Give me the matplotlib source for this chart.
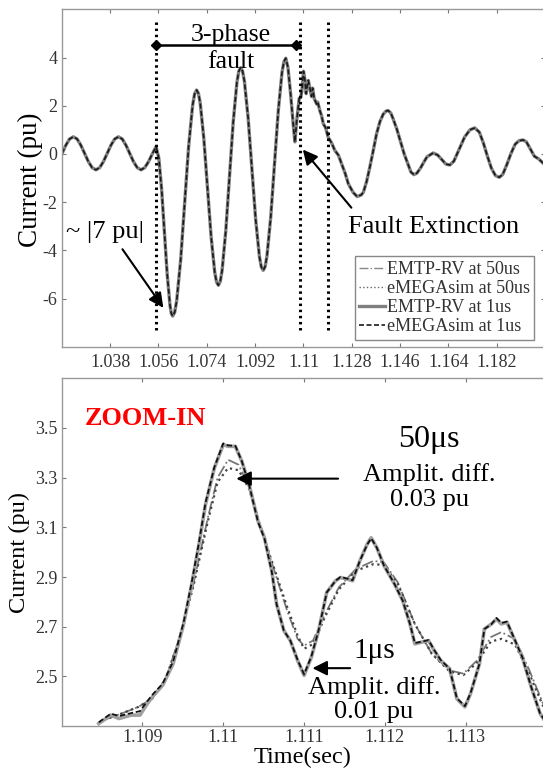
import matplotlib
matplotlib.use("Agg")
import matplotlib.pyplot as plt

plt.rcParams['font.family'] = ['Liberation Serif', 'DejaVu Serif']
plt.rcParams['axes.unicode_minus'] = False

# ---- top panel: full fault waveform (all four runs overlap here)
t_top = [1.0201, 1.0215, 1.0229, 1.0243, 1.0257, 1.0271, 1.0285, 1.0299, 1.0313, 1.0327,
         1.0341, 1.0355, 1.0369, 1.0383, 1.0397, 1.0411, 1.0425, 1.0439, 1.0453, 1.0467,
         1.0481, 1.0495, 1.0509, 1.0523, 1.0537, 1.0551,
         1.05613, 1.05717, 1.0582, 1.05923, 1.06027, 1.06078, 1.0613, 1.06204, 1.06278, 1.06427,
         1.06575, 1.06723, 1.06872, 1.06946, 1.0702, 1.07088, 1.07155, 1.0729, 1.07425, 1.0756,
         1.07695, 1.07762, 1.0783, 1.07899, 1.07968, 1.08107, 1.08245, 1.08383, 1.08522, 1.08591,
         1.0866, 1.0873, 1.088, 1.0894, 1.0908, 1.0922, 1.0936, 1.0943, 1.095, 1.0957,
         1.0964, 1.0978, 1.0992, 1.1006, 1.102, 1.1027, 1.1034, 1.1042, 1.1052, 1.1062,
         1.1068, 1.1075, 1.1084, 1.109, 1.1095, 1.11, 1.1105, 1.111, 1.1115, 1.1118,
         1.1125, 1.113, 1.1134, 1.114, 1.1149, 1.1153, 1.1161, 1.1167, 1.1174, 1.1182,
         1.1192, 1.1205, 1.1217, 1.123, 1.1242, 1.1255, 1.1267, 1.1285, 1.13, 1.1315,
         1.1323, 1.1335, 1.1347, 1.136, 1.1372, 1.1385, 1.1397, 1.1408, 1.1415, 1.1425,
         1.1434, 1.1447, 1.1459, 1.1475, 1.149, 1.15, 1.1511, 1.1522, 1.1535, 1.1545,
         1.156, 1.1583, 1.16, 1.1612, 1.163, 1.1645, 1.166, 1.168, 1.17, 1.172,
         1.1738, 1.1755, 1.177, 1.1785, 1.18, 1.1815, 1.1829, 1.1842, 1.1857, 1.1872,
         1.1888, 1.1903, 1.1918, 1.193, 1.1945, 1.196, 1.1975, 1.1992]
i_top = [0.02, 0.36, 0.62, 0.71, 0.62, 0.36, 0.02, -0.32, -0.57, -0.66,
         -0.57, -0.32, 0.02, 0.36, 0.62, 0.71, 0.62, 0.36, 0.02, -0.32,
         -0.57, -0.66, -0.57, -0.32, 0.0, 0.3,
         -0.17, -1.46, -3.22, -4.97, -6.26, -6.62, -6.73, -6.57, -6.10, -4.39,
         -2.04, 0.31, 2.02, 2.49, 2.65, 2.51, 2.11, 0.63, -1.40, -3.43,
         -4.91, -5.31, -5.45, -5.30, -4.85, -3.19, -0.94, 1.32, 2.98, 3.43,
         3.58, 3.44, 3.02, 1.48, -0.63, -2.73, -4.27, -4.69, -4.83, -4.68,
         -4.24, -2.63, -0.43, 1.77, 3.38, 3.82, 3.97, 3.6, 2.5, 1.2,
         0.5, 1.4, 2.3, 2.35, 2.7, 3.43, 3.1, 2.5, 2.9, 3.05,
         2.65, 2.38, 2.73, 2.3, 2.07, 2.15, 1.79, 1.6, 1.24, 1.1,
         0.69, 0.45, 0.14, -0.05, -0.41, -0.8, -1.24, -1.6, -1.77, -1.7,
         -1.59, -1.15, -0.55, 0.15, 0.83, 1.35, 1.65, 1.78, 1.8, 1.7,
         1.45, 1.05, 0.6, 0.0, -0.45, -0.75, -0.86, -0.8, -0.6, -0.4,
         -0.12, 0.04, -0.05, -0.2, -0.42, -0.46, -0.3, 0.2, 0.7, 1.0,
         1.08, 0.9, 0.45, -0.1, -0.6, -0.9, -0.97, -0.85, -0.45, 0.0,
         0.4, 0.55, 0.58, 0.5, 0.2, -0.1, -0.2, -0.38]

# ---- bottom panel: zoom-in around fault extinction
t_1us = [1.10846, 1.10861, 1.10871, 1.10886, 1.10897, 1.10906, 1.10914, 1.10925, 1.10938, 1.10951,
         1.10961, 1.10970, 1.10978, 1.10989, 1.11000, 1.11006, 1.11015, 1.11023, 1.11032, 1.11043,
         1.11051, 1.11060, 1.11066, 1.11075, 1.11083, 1.11092, 1.11100, 1.11109, 1.11118, 1.11128,
         1.11139, 1.11145, 1.11154, 1.11160, 1.11169, 1.11178, 1.11183, 1.11190, 1.11199, 1.11212,
         1.11222, 1.11231, 1.11237, 1.11246, 1.11254, 1.11261, 1.11269, 1.11280, 1.11289, 1.11299,
         1.11306, 1.11317, 1.11323, 1.11332, 1.11338, 1.11344, 1.11351, 1.11359, 1.11370, 1.11381,
         1.11392, 1.11400]
i_emtp_1us = [2.310, 2.344, 2.330, 2.344, 2.344, 2.390, 2.424, 2.464, 2.551, 2.711,
              2.871, 3.032, 3.192, 3.339, 3.433, 3.426, 3.426, 3.366, 3.272, 3.125,
              3.058, 2.925, 2.791, 2.684, 2.644, 2.564, 2.504, 2.577, 2.684, 2.838,
              2.885, 2.898, 2.891, 2.885, 2.965, 3.032, 3.058, 3.018, 2.945, 2.871,
              2.805, 2.711, 2.631, 2.638, 2.644, 2.604, 2.564, 2.531, 2.410, 2.377,
              2.431, 2.551, 2.691, 2.711, 2.731, 2.711, 2.718, 2.658, 2.577, 2.457,
              2.350, 2.310]
i_emega_1us = [2.315, 2.350, 2.340, 2.352, 2.360, 2.400, 2.432, 2.470, 2.560, 2.718,
               2.878, 3.040, 3.198, 3.342, 3.438, 3.430, 3.428, 3.366, 3.270, 3.122,
               3.055, 2.922, 2.790, 2.684, 2.644, 2.566, 2.508, 2.580, 2.686, 2.838,
               2.885, 2.900, 2.893, 2.887, 2.965, 3.030, 3.056, 3.018, 2.945, 2.871,
               2.805, 2.711, 2.634, 2.640, 2.646, 2.606, 2.566, 2.531, 2.412, 2.380,
               2.433, 2.551, 2.690, 2.711, 2.735, 2.715, 2.720, 2.660, 2.577, 2.457,
               2.350, 2.312]

t_50us = [1.10852, 1.10874, 1.10895, 1.10912, 1.10929, 1.10946, 1.10963, 1.10981, 1.10993, 1.11006,
          1.11019, 1.11032, 1.11045, 1.11062, 1.11079, 1.11092, 1.11100, 1.11111, 1.11126, 1.11143,
          1.11164, 1.11186, 1.11199, 1.11216, 1.11237, 1.11258, 1.11280, 1.11297, 1.11314, 1.11331,
          1.11344, 1.11361, 1.11378, 1.11395, 1.11400]
i_emtp_50us = [2.324, 2.350, 2.377, 2.410, 2.491, 2.658, 2.871, 3.139, 3.300, 3.372,
               3.352, 3.262, 3.112, 2.938, 2.765, 2.651, 2.624, 2.644, 2.751, 2.858,
               2.932, 2.965, 2.958, 2.878, 2.711, 2.591, 2.524, 2.511, 2.564, 2.658,
               2.678, 2.650, 2.530, 2.395, 2.370]
i_emega_50us = [2.324, 2.350, 2.377, 2.410, 2.491, 2.655, 2.862, 3.125, 3.282, 3.339,
                3.330, 3.255, 3.112, 2.945, 2.780, 2.664, 2.611, 2.630, 2.740, 2.850,
                2.925, 2.952, 2.948, 2.871, 2.711, 2.591, 2.520, 2.505, 2.555, 2.640,
                2.651, 2.628, 2.515, 2.385, 2.360]

top_xticks = [1.038, 1.056, 1.074, 1.092, 1.11, 1.128, 1.146, 1.164, 1.182]
top_xlabels = ['1.038', '1.056', '1.074', '1.092', '1.11', '1.128', '1.146', '1.164', '1.182']
top_yticks = [-6, -4, -2, 0, 2, 4]
bot_xticks = [1.109, 1.11, 1.111, 1.112, 1.113]
bot_xlabels = ['1.109', '1.11', '1.111', '1.112', '1.113']
bot_yticks = [2.5, 2.7, 2.9, 3.1, 3.3, 3.5]
bot_ylabels = ['2.5', '2.7', '2.9', '3.1', '3.3', '3.5']

fault_lines = [1.0551, 1.1087, 1.1192]
legend_names = ['EMTP-RV at 50us', 'eMEGAsim at 50us', 'EMTP-RV at 1us', 'eMEGAsim at 1us']

fig = plt.figure(figsize=(5.43, 7.7), dpi=100)
ax1 = fig.add_axes([0.1138, 0.5497, 0.8902, 0.4382])
ax2 = fig.add_axes([0.1134, 0.0571, 0.8932, 0.4516])

spine_col = '#999999'
for ax in (ax1, ax2):
    for s in ax.spines.values():
        s.set_color(spine_col)
        s.set_linewidth(1.0)
    ax.tick_params(direction='in', length=3, width=0.8, color='#777777',
                   top=True, right=True, labelsize=13, labelcolor='#333333')

# top panel
ax1.plot(t_top, i_top, color='#888888', lw=1, ls='-.', label=legend_names[0])
ax1.plot(t_top, i_top, color='#666666', lw=1, ls=':', label=legend_names[1])
ax1.plot(t_top, i_top, color='#808080', lw=2.4, ls='-', label=legend_names[2])
ax1.plot(t_top, i_top, color='#1a1a1a', lw=1.2, ls=(0, (3, 1.5)), label=legend_names[3])
for x in fault_lines:
    ax1.plot([x, x], [-7.3, 5.6], color='black', lw=2.2, ls=(0, (0.8, 1.2)))
ax1.plot([1.0551, 1.1071], [4.51, 4.51], color='black', lw=1.8, marker='D', markersize=5)
ax1.text(1.0829, 4.36, '3-phase\nfault', ha='center', va='center', fontsize=18.5, linespacing=1.3)
ax1.text(1.0361, -3.24, '~ |7 pu|', ha='center', va='center', fontsize=19)
ax1.annotate('', xy=(1.0584, -6.48), xytext=(1.0420, -3.86),
             arrowprops=dict(arrowstyle='-|>', color='black', lw=1.5, mutation_scale=22))
ax1.text(1.1584, -3.04, 'Fault Extinction', ha='center', va='center', fontsize=19)
ax1.annotate('', xy=(1.1091, 0.27), xytext=(1.1285, -2.32),
             arrowprops=dict(arrowstyle='-|>', color='black', lw=1.5, mutation_scale=22))
ax1.set_xlim(1.02, 1.2)
ax1.set_ylim(-8, 6)
ax1.set_xticks(top_xticks)
ax1.set_xticklabels(top_xlabels)
ax1.set_yticks(top_yticks)
ax1.tick_params(axis='x', pad=5)
ax1.tick_params(axis='y', pad=3)
leg = ax1.legend(loc='lower right', bbox_to_anchor=(0.977, 0.02), borderaxespad=0,
                 fontsize=13, handlelength=1.4, handletextpad=0.1, borderpad=0.25,
                 labelspacing=0.12, fancybox=False, framealpha=1)
leg.get_frame().set_edgecolor('#888888')
for txt in leg.get_texts():
    txt.set_color('#333333')

# bottom panel
ax2.plot(t_50us, i_emtp_50us, color='#777777', lw=1.3, ls='-.')
ax2.plot(t_50us, i_emega_50us, color='#444444', lw=1.6, ls=':')
ax2.plot(t_1us, i_emtp_1us, color='#a0a0a0', lw=2.6, ls='-')
ax2.plot(t_1us, i_emega_1us, color='#111111', lw=1.3, ls=(0, (3, 1.5)))
ax2.text(1.10829, 3.539, 'ZOOM-IN', color='red', fontweight='bold', fontsize=19,
         ha='left', va='center')
ax2.text(1.112546, 3.453, '50\u03bcs', fontsize=23, ha='center', va='center')
ax2.text(1.11255, 3.262, 'Amplit. diff.\n0.03 pu', fontsize=19, ha='center', va='center',
         linespacing=1.15)
ax2.annotate('', xy=(1.110127, 3.296), xytext=(1.111455, 3.296),
             arrowprops=dict(arrowstyle='-|>', color='black', lw=1.5, mutation_scale=22))
ax2.text(1.111871, 2.604, '1\u03bcs', fontsize=21, ha='center', va='center')
ax2.text(1.111865, 2.407, 'Amplit. diff.\n0.01 pu', fontsize=19, ha='center', va='center',
         linespacing=1.15)
ax2.annotate('', xy=(1.111069, 2.533), xytext=(1.111604, 2.533),
             arrowprops=dict(arrowstyle='-|>', color='black', lw=1.5, mutation_scale=22))
ax2.set_xlim(1.108, 1.114)
ax2.set_ylim(2.3, 3.7)
ax2.set_xticks(bot_xticks)
ax2.set_xticklabels(bot_xlabels)
ax2.set_yticks(bot_yticks)
ax2.set_yticklabels(bot_ylabels)
ax2.tick_params(axis='x', pad=2)
ax2.tick_params(axis='y', pad=3)

fig.text(0.0558, 0.7662, 'Current (pu)', rotation=90, ha='center', va='center', fontsize=19.5)
fig.text(0.035, 0.2825, 'Current (pu)', rotation=90, ha='center', va='center', fontsize=17.5)
fig.text(303 / 543, 1 - 757 / 770, 'Time(sec)', ha='center', va='center', fontsize=17.5)

fig.savefig('out.png', dpi=100, facecolor='white')
